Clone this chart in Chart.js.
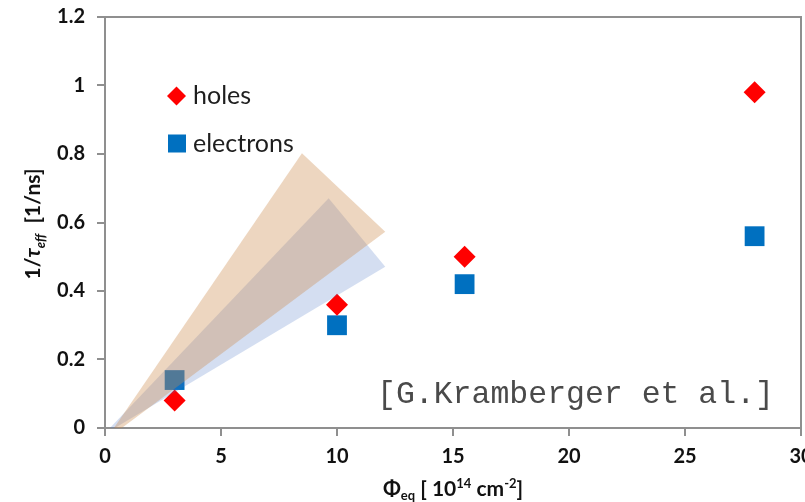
<!DOCTYPE html>
<html>
<head>
<meta charset="utf-8">
<script src="https://cdn.jsdelivr.net/npm/chart.js@4.4.0/dist/chart.umd.min.js"></script>
<style>
  html, body { margin: 0; padding: 0; background: #fff; overflow: hidden; }
  #wrap { width: 805px; height: 502px; overflow: hidden; }
</style>
</head>
<body>
<div id="wrap"><canvas id="c" width="815" height="502"></canvas></div>
<script>
// fluence in 1e14 cm^-2
const fluence = [3, 10, 15.5, 28];
const holes = [0.08, 0.36, 0.5, 0.98];
const electrons = [0.14, 0.3, 0.42, 0.56];

// shaded wedges (x, y) corners
const wedgeHoles = [[0.03, -0.035], [8.49, 0.802], [12.08, 0.573]];
const wedgeElectrons = [[-0.07, -0.02], [9.64, 0.671], [12.08, 0.471]];

const xTicks = [0, 5, 10, 15, 20, 25, 30];
const yTicks = [0, 0.2, 0.4, 0.6, 0.8, 1, 1.2];

const axisGray = "#8f8f8f";
const tickFont = { family: "Lato", size: 20, weight: "bold" };

const toPts = (xs, ys) => xs.map((x, i) => ({ x, y: ys[i] }));
const polyPts = (arr) => arr.concat([arr[0]]).map(([x, y]) => ({ x, y }));

// text drawn in several pieces (sub/superscripts)
function drawRuns(ctx, runs, x, y) {
  let w = 0;
  runs.forEach((r) => {
    ctx.font = r.font;
    w += ctx.measureText(r.t).width;
  });
  let cx = x - w / 2;
  runs.forEach((r) => {
    ctx.font = r.font;
    ctx.fillText(r.t, cx, y + (r.dy || 0));
    cx += ctx.measureText(r.t).width;
  });
}

const extras = {
  id: "extras",
  afterDraw(chart) {
    const ctx = chart.ctx;
    const a = chart.chartArea;
    ctx.save();

    // top and right frame
    ctx.strokeStyle = axisGray;
    ctx.lineWidth = 2;
    ctx.beginPath();
    ctx.moveTo(a.left, a.top);
    ctx.lineTo(a.right, a.top);
    ctx.lineTo(a.right, a.bottom);
    ctx.stroke();

    // legend inside plot
    ctx.fillStyle = "#ff0000";
    ctx.beginPath();
    ctx.moveTo(176.5 - 9.5, 96);
    ctx.lineTo(176.5, 96 - 9.5);
    ctx.lineTo(176.5 + 9.5, 96);
    ctx.lineTo(176.5, 96 + 9.5);
    ctx.closePath();
    ctx.fill();
    ctx.fillStyle = "#0070c0";
    ctx.fillRect(168, 134.5, 18, 18);
    ctx.fillStyle = "#1e1e1e";
    ctx.font = '25px "Lato"';
    ctx.textBaseline = "alphabetic";
    ctx.fillText("holes", 193, 104);
    ctx.fillText("electrons", 193, 152);

    // reference note
    ctx.fillStyle = "#4a4a4a";
    ctx.font = '31.5px "Liberation Mono"';
    ctx.fillText("[G.Kramberger et al.]", 377, 403);

    // axis titles
    ctx.fillStyle = "#111";
    const big = 'bold 21px "Lato"';
    const bigIt = 'italic bold 21px "Lato"';
    const small = 'bold 13px "Lato"';
    const smallIt = 'italic bold 13px "Lato"';
    drawRuns(ctx, [
      { t: "\u03A6", font: big },
      { t: "eq", font: small, dy: 4 },
      { t: " [ 10", font: big },
      { t: "14", font: small, dy: -8 },
      { t: " cm", font: big },
      { t: "-2", font: small, dy: -8 },
      { t: "]", font: big },
    ], 453, 496);

    ctx.translate(40, 224);
    ctx.rotate(-Math.PI / 2);
    drawRuns(ctx, [
      { t: "1/", font: big },
      { t: "\u03C4", font: bigIt },
      { t: "eff", font: smallIt, dy: 5 },
      { t: "  [1/ns]", font: big },
    ], 0, 0);

    ctx.restore();
  },
};

new Chart(document.getElementById("c"), {
  type: "scatter",
  data: {
    datasets: [
      {
        label: "wedge holes",
        data: polyPts(wedgeHoles),
        showLine: true,
        fill: "shape",
        backgroundColor: "rgba(204,138,75,0.35)",
        borderWidth: 0,
        pointRadius: 0,
        order: 0,
      },
      {
        label: "wedge electrons",
        data: polyPts(wedgeElectrons),
        showLine: true,
        fill: "shape",
        backgroundColor: "rgba(68,114,196,0.23)",
        borderWidth: 0,
        pointRadius: 0,
        order: 1,
      },
      {
        label: "holes",
        data: toPts(fluence, holes),
        pointStyle: "rectRot",
        pointRadius: 11,
        backgroundColor: "#ff0000",
        borderWidth: 0,
        order: 2,
      },
      {
        label: "electrons",
        data: toPts(fluence, electrons),
        pointStyle: "rect",
        pointRadius: 14,
        backgroundColor: "#0070c0",
        borderWidth: 0,
        order: 3,
      },
    ],
  },
  options: {
    responsive: false,
    animation: false,
    layout: { padding: { top: 17, right: 5, left: 0, bottom: 0 } },
    plugins: { legend: { display: false }, tooltip: { enabled: false } },
    scales: {
      x: {
        type: "linear",
        min: 0,
        max: 30,
        afterBuildTicks: (s) => { s.ticks = xTicks.map((v) => ({ value: v })); },
        ticks: { font: tickFont, color: "#111", padding: 9 },
        grid: { drawOnChartArea: false, drawTicks: true, tickLength: 8, color: axisGray, lineWidth: 2 },
        border: { color: axisGray, width: 2 },
        afterFit: (s) => { s.height = 74; s.paddingLeft = 0; s.paddingRight = 0; },
      },
      y: {
        type: "linear",
        min: 0,
        max: 1.2,
        afterBuildTicks: (s) => { s.ticks = yTicks.map((v) => ({ value: v })); },
        ticks: { font: tickFont, color: "#111", padding: 12, callback: (v) => String(v) },
        grid: { drawOnChartArea: false, drawTicks: true, tickLength: 8, color: axisGray, lineWidth: 2 },
        border: { color: axisGray, width: 2 },
        afterFit: (s) => { s.width = 105; s.paddingTop = 0; s.paddingBottom = 0; },
      },
    },
  },
  plugins: [extras],
});
</script>
</body>
</html>
